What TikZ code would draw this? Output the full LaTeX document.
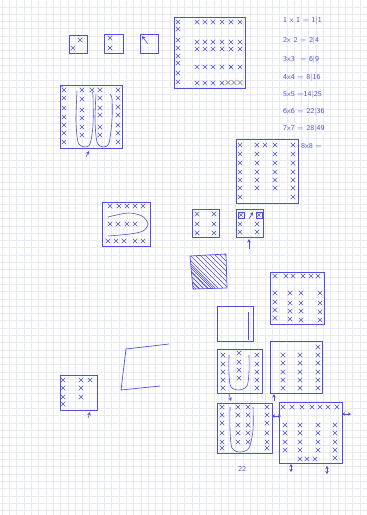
\documentclass[tikz,border=0pt]{standalone}
\usetikzlibrary{arrows.meta}
\definecolor{ink}{RGB}{80,80,222}
\definecolor{gridc}{RGB}{232,234,241}
\tikzset{
  box/.style={draw=ink,line width=0.7pt},
  pen/.style={draw=ink,line width=0.6pt},
  arr/.style={draw=ink,line width=0.6pt,-{Stealth[length=3.5pt,width=3.5pt]}},
  darr/.style={draw=ink,line width=0.6pt,{Stealth[length=3pt,width=3.5pt]}-{Stealth[length=3pt,width=3.5pt]}},
  txt/.style={text=ink,font=\sffamily\fontsize{7.5}{9}\selectfont,anchor=west,inner sep=0pt},
  xm/.pic={\draw[ink,line width=0.55pt] (-2.3,-2.3)--(2.3,2.3) (-2.3,2.3)--(2.3,-2.3);}
}
\begin{document}
\begin{tikzpicture}[x=1pt,y=-1pt]
\useasboundingbox (0,0) rectangle (367,515);
\fill[white] (0,0) rectangle (367,515);
\foreach \i in {0,...,50} \draw[gridc,line width=0.35pt] ({2+7.3*\i},0) -- ({2+7.3*\i},515);
\foreach \j in {0,...,70} \draw[gridc,line width=0.35pt] (0,{6.7+7.3*\j}) -- (367,{6.7+7.3*\j});

% small boxes top
\draw[box] (69,35) rectangle (87,53);
\pic at (80,40) {xm}; \pic at (73,48) {xm};
\draw[box] (104,34) rectangle (123,53);
\pic at (110,38) {xm}; \pic at (110,48) {xm};
\draw[box] (140,34) rectangle (158,53);
\draw[arr] (148,44) -- (142,36);

% big box top
\draw[box] (174,17) rectangle (245,88);
\foreach \y in {22,29,40,48,56,63,73,82} \pic at (178,\y) {xm};
\foreach \y in {22,42,49,67} \foreach \x in {197,205,213,222,231,240} \pic at (\x,\y) {xm};
\foreach \x in {197,205,213,222} \pic at (\x,83) {xm};
\foreach \x in {228,234,240} \draw[gray,line width=0.5pt] (\x-2.5,85)--(\x+2.5,80) (\x-2.5,80)--(\x+2.5,85);
\fill[ink] (231,67) circle (1.3);

% equations
\node[txt] at (283,21) {1 x 1 = 1|1};
\node[txt] at (283,41) {2x 2 = 2|4};
\node[txt] at (283,60) {3x3\ \ = 6|9};
\node[txt] at (283,78) {4x4 = 8|16};
\node[txt] at (283,95) {5x5 =14|25};
\node[txt] at (283,112) {6x6 = 22|36};
\node[txt] at (283,129) {7x7 = 28|49};
\node[txt] at (301,146) {8x8 =};

% box with two U loops
\draw[box] (60,85) rectangle (122,148);
\fill[ink] (62,86) circle (0.9);
\foreach \y in {90,98,108,117,125,133,142} \pic at (64,\y) {xm};
\foreach \y in {90,99,110,118,127,135} \pic at (82,\y) {xm};
\foreach \y in {90,98,108,115,127,135} \pic at (100,\y) {xm};
\foreach \y in {90,98,107,115,125,133,142} \pic at (118,\y) {xm};
\pic at (92,90) {xm};
\draw[pen] plot[smooth] coordinates {(77,91) (76,120) (78,142) (84,147) (90,144) (93,125) (93,96) (92,92)};
\draw[pen] plot[smooth] coordinates {(96,94) (95,120) (97,142) (103,147) (109,143) (112,120) (112,99) (110,94)};
\draw[arr] (86,157) -- (89,151);

% box 8x8
\draw[box] (236,139) rectangle (298,203);
\foreach \y in {145,154,163,172,180,188,197} \pic at (240,\y) {xm};
\foreach \y in {145,154,163,172,180,188} \pic at (257,\y) {xm};
\pic at (265,145) {xm};
\foreach \y in {145,154,163,172,180,188} \pic at (275,\y) {xm};
\foreach \y in {145,154,163,172,180,188,197} \pic at (293,\y) {xm};

% box with oval
\draw[box] (102,202) rectangle (150,246);
\foreach \x in {110,119,127,135,143} \pic at (\x,206) {xm};
\draw[pen] plot[smooth] coordinates {(108,217) (128,213) (142,216) (148,224) (143,231) (130,234) (108,236)};
\foreach \x in {110,118,127,135} \pic at (\x,224) {xm};
\foreach \x in {108,116,124,135,143} \pic at (\x,241) {xm};

% small boxes middle
\draw[box] (192,209) rectangle (219,237);
\foreach \y in {214,224,233} {\pic at (197,\y) {xm}; \pic at (214,\y) {xm};}
\draw[box] (236,209) rectangle (263,237);
\draw[pen] (238,212) rectangle (244,218); \pic[scale=0.7] at (241,215) {xm};
\draw[pen] (256,212) rectangle (262,218); \pic[scale=0.7] at (259,215) {xm};
\draw[arr] (249,219) -- (253,212);
\pic at (240,224) {xm}; \pic at (257,224) {xm};
\pic at (240,232) {xm}; \pic at (257,232) {xm};
\draw[arr] (249,249) -- (249,239);

% hatched box
\draw[box] (190,256) -- (226,254) -- (227,288) -- (193,289) -- cycle;
\begin{scope}
\clip (190,256) -- (226,254) -- (227,288) -- (193,289) -- cycle;
\foreach \k in {-36,-31,...,36} \draw[ink,line width=0.5pt] (190+\k,254) -- (226+\k,290);
\foreach \k in {-33,-29,...,-9} \draw[ink,line width=0.45pt] (190+\k,254) -- (226+\k,290);
\end{scope}

% right middle box
\draw[box] (270,272) rectangle (324,324);
\foreach \x in {275,286,293,303,311,318} \pic at (\x,276) {xm};
\foreach \y in {293,302,310,318} \pic at (275,\y) {xm};
\foreach \y in {293,303,311,319} \pic at (290,\y) {xm};
\foreach \y in {293,303,311,320} \pic at (301,\y) {xm};
\foreach \y in {293,303,312,320} \pic at (320,\y) {xm};

% empty box
\draw[box] (217,306) rectangle (253,341);
\draw[pen] (248,312) -- (248,340);

% left lower box
\draw[box] (60,375) rectangle (97,410);
\foreach \y in {380,388,397,404} \pic at (63,\y) {xm};
\foreach \y in {380,388,397} \pic at (81,\y) {xm};
\pic at (90,380) {xm};
\draw[arr] (88,418) -- (90,412);

% open shape
\draw[box] (169,344) -- (126,349) -- (121,390) -- (160,386);

% box A
\draw[box] (217,349) rectangle (262,393);
\draw[pen] plot[smooth] coordinates {(229,355) (229,375) (231,387) (239,390) (247,386) (249,372) (249,355)};
\foreach \y in {355,364,372,380,388} {\pic at (223,\y) {xm}; \pic at (257,\y) {xm};}
\foreach \y in {353,362,370,378} \pic at (239,\y) {xm};
\draw[arr] (229,394) -- (231,401);

% box B
\draw[box] (270,341) rectangle (322,393);
\foreach \y in {355,363,372,380,388} {\pic at (283,\y) {xm}; \pic at (300,\y) {xm}; \pic at (318,\y) {xm};}
\pic at (318,347) {xm};
\draw[arr] (274,401) -- (274,394);

% box C
\draw[box] (217,403) rectangle (272,453);
\draw[pen] plot[smooth] coordinates {(230,407) (230,430) (232,448) (240,452) (249,448) (253,430) (253,407)};
\foreach \y in {407,415,423,433,442,448} {\pic at (222,\y) {xm}; \pic at (267,\y) {xm};}
\foreach \y in {407,415,425,433,442} {\pic at (238,\y) {xm}; \pic at (248,\y) {xm};}
\draw[darr] (272,416) -- (281,416);

% box D
\draw[box] (279,402) rectangle (342,463);
\foreach \x in {283,292,302,312,320,328,337} \pic at (\x,407) {xm};
\foreach \y in {425,433,442,450} {\pic at (285,\y) {xm}; \pic at (300,\y) {xm}; \pic at (318,\y) {xm}; \pic at (335,\y) {xm};}
\pic at (335,458) {xm};
\foreach \x in {300,307,315} \pic at (\x,459) {xm};
\draw[darr] (342,414) -- (351,414);
\draw[darr] (291,464) -- (291,472);
\draw[darr] (327,466) -- (327,474);

\node[txt] at (238,469) {22};
\end{tikzpicture}
\end{document}
